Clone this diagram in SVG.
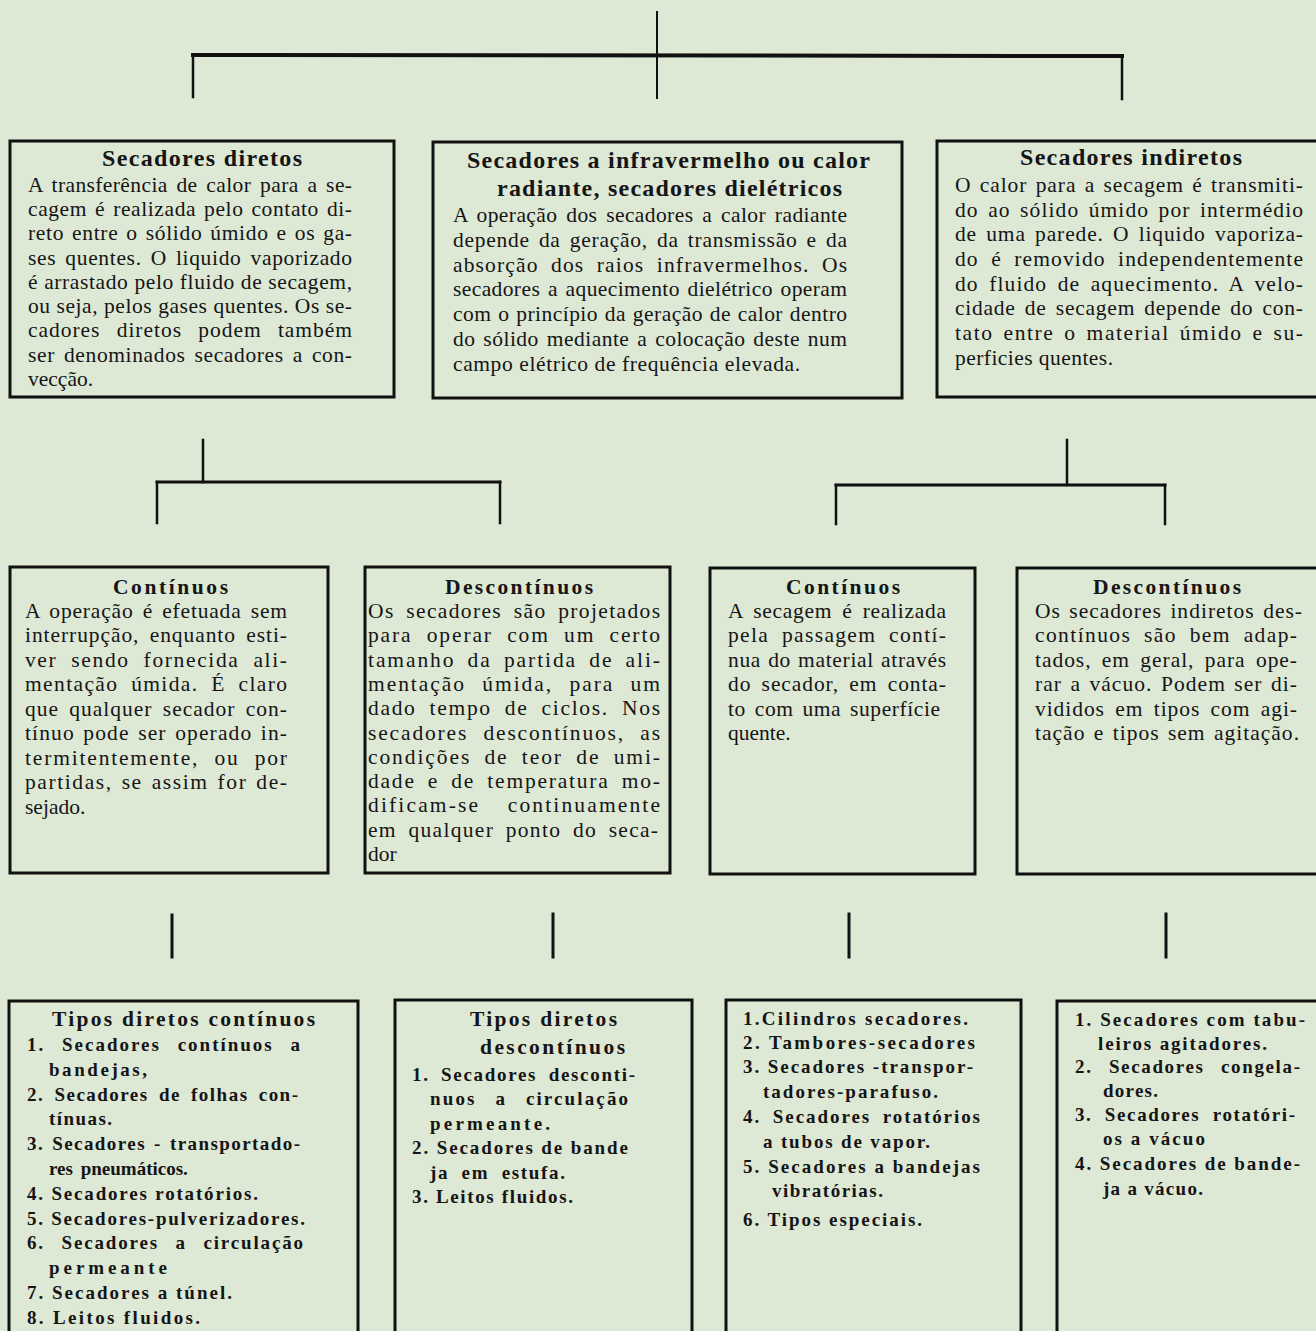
<svg xmlns="http://www.w3.org/2000/svg" width="1316" height="1331" viewBox="0 0 1316 1331">
<style>
.bg{fill:#dde8d5}
.box{fill:none;stroke:#111;stroke-width:3}
.c{stroke:#111;fill:none;stroke-linecap:square}
text{font-family:"Liberation Serif","Times New Roman",serif;fill:#151515}
.t{font-size:21.5px}
.h{font-size:24px;font-weight:bold}
.h2{font-size:21.5px;font-weight:bold}
.li{font-size:19px;font-weight:bold}
</style>
<rect class="bg" x="0" y="0" width="1316" height="1331"/>

<g id="connectors">
<line class="c" x1="657" y1="12" x2="657" y2="98" stroke-width="2"/>
<line class="c" x1="193" y1="55" x2="1122" y2="56" stroke-width="4"/>
<line class="c" x1="193" y1="55" x2="193" y2="97" stroke-width="2.5"/>
<line class="c" x1="1122" y1="56" x2="1122" y2="99" stroke-width="2.5"/>

<line class="c" x1="203" y1="440" x2="203" y2="482" stroke-width="2.5"/>
<line class="c" x1="157" y1="482" x2="500" y2="482" stroke-width="3"/>
<line class="c" x1="157" y1="482" x2="157" y2="523" stroke-width="2.5"/>
<line class="c" x1="500" y1="482" x2="500" y2="523" stroke-width="2.5"/>

<line class="c" x1="1067" y1="440" x2="1067" y2="485" stroke-width="2.5"/>
<line class="c" x1="836" y1="485" x2="1165" y2="485" stroke-width="3"/>
<line class="c" x1="836" y1="485" x2="836" y2="524" stroke-width="2.5"/>
<line class="c" x1="1165" y1="485" x2="1165" y2="524" stroke-width="2.5"/>

<line class="c" x1="172" y1="915" x2="172" y2="957" stroke-width="3"/>
<line class="c" x1="553" y1="914" x2="553" y2="957" stroke-width="3"/>
<line class="c" x1="849" y1="914" x2="849" y2="957" stroke-width="3"/>
<line class="c" x1="1166" y1="914" x2="1166" y2="957" stroke-width="3"/>
</g>

<g id="secadores-diretos">
<rect class="box" x="10" y="141" width="384" height="256"/>
<text class="h" x="102" y="166" textLength="200">Secadores diretos</text>
<text class="t" x="28" y="192" textLength="324" style="word-spacing:3px">A transferência de calor para a se-</text>
<text class="t" x="28" y="216" textLength="324" style="word-spacing:2px">cagem é realizada pelo contato di-</text>
<text class="t" x="28" y="240" textLength="324" style="word-spacing:2px">reto entre o sólido úmido e os ga-</text>
<text class="t" x="28" y="265" textLength="324" style="word-spacing:3px">ses quentes. O liquido vaporizado</text>
<text class="t" x="28" y="289" textLength="324">é arrastado pelo fluido de secagem,</text>
<text class="t" x="28" y="313" textLength="324">ou seja, pelos gases quentes. Os se-</text>
<text class="t" x="28" y="337" textLength="324" style="word-spacing:10px">cadores diretos podem também</text>
<text class="t" x="28" y="362" textLength="324" style="word-spacing:3px">ser denominados secadores a con-</text>
<text class="t" x="28" y="386">vecção.</text>
</g>

<g id="secadores-infravermelho">
<rect class="box" x="433" y="142" width="469" height="256"/>
<text class="h" x="467" y="168" textLength="403">Secadores a infravermelho ou calor</text>
<text class="h" x="497" y="196" textLength="345">radiante, secadores dielétricos</text>
<text class="t" x="453" y="222" textLength="394" style="word-spacing:3px">A operação dos secadores a calor radiante</text>
<text class="t" x="453" y="247" textLength="394" style="word-spacing:3px">depende da geração, da transmissão e da</text>
<text class="t" x="453" y="272" textLength="394" style="word-spacing:6px">absorção dos raios infravermelhos. Os</text>
<text class="t" x="453" y="296" textLength="394" style="word-spacing:2px">secadores a aquecimento dielétrico operam</text>
<text class="t" x="453" y="321" textLength="394" style="word-spacing:1px">com o princípio da geração de calor dentro</text>
<text class="t" x="453" y="346" textLength="394" style="word-spacing:2px">do sólido mediante a colocação deste num</text>
<text class="t" x="453" y="371" textLength="347">campo elétrico de frequência elevada.</text>
</g>

<g id="secadores-indiretos">
<rect class="box" x="937" y="141" width="400" height="256"/>
<text class="h" x="1020" y="165" textLength="222">Secadores indiretos</text>
<text class="t" x="955" y="192" textLength="348" style="word-spacing:2px">O calor para a secagem é transmiti-</text>
<text class="t" x="955" y="217" textLength="348" style="word-spacing:3px">do ao sólido úmido por intermédio</text>
<text class="t" x="955" y="241" textLength="348" style="word-spacing:3px">de uma parede. O liquido vaporiza-</text>
<text class="t" x="955" y="266" textLength="348" style="word-spacing:6px">do é removido independentemente</text>
<text class="t" x="955" y="291" textLength="348" style="word-spacing:4px">do fluido de aquecimento. A velo-</text>
<text class="t" x="955" y="315" textLength="348" style="word-spacing:3px">cidade de secagem depende do con-</text>
<text class="t" x="955" y="340" textLength="348" style="word-spacing:3px">tato entre o material úmido e su-</text>
<text class="t" x="955" y="365" textLength="158">perficies quentes.</text>
</g>

<g id="diretos-continuos">
<rect class="box" x="10" y="567" width="318" height="306"/>
<text class="h2" x="113" y="594" textLength="115">Contínuos</text>
<text class="t" x="25" y="618" textLength="262" style="word-spacing:3px">A operação é efetuada sem</text>
<text class="t" x="25" y="642" textLength="262" style="word-spacing:4px">interrupção, enquanto esti-</text>
<text class="t" x="25" y="667" textLength="262" style="word-spacing:7px">ver sendo fornecida ali-</text>
<text class="t" x="25" y="691" textLength="262" style="word-spacing:6px">mentação úmida. É claro</text>
<text class="t" x="25" y="716" textLength="262" style="word-spacing:4px">que qualquer secador con-</text>
<text class="t" x="25" y="740" textLength="262" style="word-spacing:2px">tínuo pode ser operado in-</text>
<text class="t" x="25" y="765" textLength="262" style="word-spacing:8px">termitentemente, ou por</text>
<text class="t" x="25" y="789" textLength="262" style="word-spacing:2px">partidas, se assim for de-</text>
<text class="t" x="25" y="814">sejado.</text>
</g>

<g id="diretos-descontinuos">
<rect class="box" x="365" y="567" width="305" height="306"/>
<text class="h2" x="445" y="594" textLength="148">Descontínuos</text>
<text class="t" x="368" y="618" textLength="292" style="word-spacing:5px">Os secadores são projetados</text>
<text class="t" x="368" y="642" textLength="292" style="word-spacing:7px">para operar com um certo</text>
<text class="t" x="368" y="667" textLength="292" style="word-spacing:5px">tamanho da partida de ali-</text>
<text class="t" x="368" y="691" textLength="292" style="word-spacing:9px">mentação úmida, para um</text>
<text class="t" x="368" y="715" textLength="292" style="word-spacing:6px">dado tempo de ciclos. Nos</text>
<text class="t" x="368" y="740" textLength="292" style="word-spacing:8px">secadores descontínuos, as</text>
<text class="t" x="368" y="764" textLength="292" style="word-spacing:6px">condições de teor de umi-</text>
<text class="t" x="368" y="788" textLength="292" style="word-spacing:5px">dade e de temperatura mo-</text>
<text class="t" x="368" y="812" textLength="292" style="word-spacing:20px">dificam-se continuamente</text>
<text class="t" x="368" y="837" textLength="290" style="word-spacing:5px">em qualquer ponto do seca-</text>
<text class="t" x="368" y="861">dor</text>
</g>

<g id="indiretos-continuos">
<rect class="box" x="710" y="568" width="265" height="306"/>
<text class="h2" x="786" y="594" textLength="114">Contínuos</text>
<text class="t" x="728" y="618" textLength="218" style="word-spacing:4px">A secagem é realizada</text>
<text class="t" x="728" y="642" textLength="218" style="word-spacing:6px">pela passagem contí-</text>
<text class="t" x="728" y="667" textLength="218" style="word-spacing:1px">nua do material através</text>
<text class="t" x="728" y="691" textLength="218" style="word-spacing:4px">do secador, em conta-</text>
<text class="t" x="728" y="716" textLength="212" style="word-spacing:3px">to com uma superfície</text>
<text class="t" x="728" y="740">quente.</text>
</g>

<g id="indiretos-descontinuos">
<rect class="box" x="1017" y="568" width="320" height="306"/>
<text class="h2" x="1093" y="594" textLength="148">Descontínuos</text>
<text class="t" x="1035" y="618" textLength="267" style="word-spacing:2px">Os secadores indiretos des-</text>
<text class="t" x="1035" y="642" textLength="262" style="word-spacing:6px">contínuos são bem adap-</text>
<text class="t" x="1035" y="667" textLength="262" style="word-spacing:4px">tados, em geral, para ope-</text>
<text class="t" x="1035" y="691" textLength="262" style="word-spacing:2px">rar a vácuo. Podem ser di-</text>
<text class="t" x="1035" y="716" textLength="262" style="word-spacing:4px">vididos em tipos com agi-</text>
<text class="t" x="1035" y="740" textLength="264" style="word-spacing:2px">tação e tipos sem agitação.</text>
</g>

<g id="tipos-diretos-continuos">
<rect class="box" x="9" y="1001" width="349" height="345"/>
<text class="h2" x="52" y="1026" textLength="263">Tipos diretos contínuos</text>
<text class="li" x="27" y="1051" textLength="273" style="word-spacing:10px">1. Secadores contínuos a</text>
<text class="li" x="49" y="1076" textLength="98">bandejas,</text>
<text class="li" x="27" y="1101" textLength="271" style="word-spacing:4px">2. Secadores de folhas con-</text>
<text class="li" x="49" y="1125" textLength="63">tínuas.</text>
<text class="li" x="27" y="1150" textLength="273" style="word-spacing:2px">3. Secadores - transportado-</text>
<text class="li" x="49" y="1175" style="word-spacing:3px">res pneumáticos.</text>
<text class="li" x="27" y="1200" textLength="231">4. Secadores rotatórios.</text>
<text class="li" x="27" y="1225" textLength="278">5. Secadores-pulverizadores.</text>
<text class="li" x="27" y="1249" textLength="276" style="word-spacing:10px">6. Secadores a circulação</text>
<text class="li" x="49" y="1274" textLength="118">permeante</text>
<text class="li" x="27" y="1299" textLength="205">7. Secadores a túnel.</text>
<text class="li" x="27" y="1324" textLength="173">8. Leitos fluidos.</text>
</g>

<g id="tipos-diretos-descontinuos">
<rect class="box" x="395" y="1000" width="297" height="345"/>
<text class="h2" x="470" y="1026" textLength="147">Tipos diretos</text>
<text class="h2" x="480" y="1054" textLength="145">descontínuos</text>
<text class="li" x="412" y="1081" textLength="223" style="word-spacing:5px">1. Secadores desconti-</text>
<text class="li" x="430" y="1105" textLength="198" style="word-spacing:12px">nuos a circulação</text>
<text class="li" x="430" y="1130" textLength="120">permeante.</text>
<text class="li" x="412" y="1154" textLength="216">2. Secadores de bande</text>
<text class="li" x="430" y="1179" textLength="135" style="word-spacing:6px">ja em estufa.</text>
<text class="li" x="412" y="1203" textLength="161">3. Leitos fluidos.</text>
</g>

<g id="tipos-indiretos-continuos">
<rect class="box" x="726" y="1000" width="295" height="345"/>
<text class="li" x="743" y="1025" textLength="225">1.Cilindros secadores.</text>
<text class="li" x="743" y="1049" textLength="232">2. Tambores-secadores</text>
<text class="li" x="743" y="1073" textLength="230">3. Secadores -transpor-</text>
<text class="li" x="763" y="1098" textLength="175">tadores-parafuso.</text>
<text class="li" x="743" y="1123" textLength="237" style="word-spacing:5px">4. Secadores rotatórios</text>
<text class="li" x="763" y="1148" textLength="167">a tubos de vapor.</text>
<text class="li" x="743" y="1173" textLength="237">5. Secadores a bandejas</text>
<text class="li" x="772" y="1197" textLength="111">vibratórias.</text>
<text class="li" x="743" y="1226" textLength="179">6. Tipos especiais.</text>
</g>

<g id="tipos-indiretos-descontinuos">
<rect class="box" x="1057" y="1001" width="280" height="345"/>
<text class="li" x="1075" y="1026" textLength="230">1. Secadores com tabu-</text>
<text class="li" x="1098" y="1050" textLength="169">leiros agitadores.</text>
<text class="li" x="1075" y="1073" textLength="225" style="word-spacing:10px">2. Secadores congela-</text>
<text class="li" x="1103" y="1097" textLength="55">dores.</text>
<text class="li" x="1075" y="1121" textLength="220" style="word-spacing:6px">3. Secadores rotatóri-</text>
<text class="li" x="1103" y="1145" textLength="102">os a vácuo</text>
<text class="li" x="1075" y="1170" textLength="225">4. Secadores de bande-</text>
<text class="li" x="1103" y="1195" textLength="100">ja a vácuo.</text>
</g>
</svg>
